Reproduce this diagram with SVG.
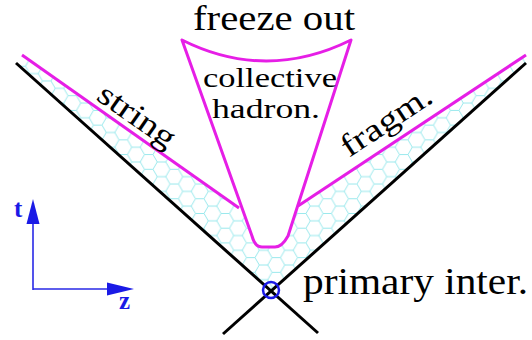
<svg xmlns="http://www.w3.org/2000/svg" width="532" height="340" viewBox="0 0 532 340">
<style>
.lbl{fill:#000}
.ax{fill:#1a1ae6;font-weight:bold;font-size:25px}
.mag{fill:none;stroke:#e61ee6;stroke-width:3;stroke-linejoin:round}
.blk{stroke:#000;stroke-width:3;fill:none}
.axl{stroke:#2a2ae6;stroke-width:1.6;fill:none}
</style>
<defs>
<pattern id="hex" width="25.5" height="14.722" patternUnits="userSpaceOnUse">
<path d="M0,7.361 L4.25,0 L12.75,0 L17,7.361 L12.75,14.722 L4.25,14.722 Z M17,7.361 L25.5,7.361" fill="none" stroke="#8ee6ea" stroke-width="0.9"/>
</pattern>
</defs>
<rect width="532" height="340" fill="#fff"/>
<g id="fill">
<path d="M16,63 L271,291 L526,63 L526,55 L298,206 L288,236 Q282,247 275,247 L262,247 Q255,247 252,236 L239,208 L22,55 Z" fill="url(#hex)"/>
</g>
<g id="connectors">
<line class="blk" x1="16" y1="63" x2="318" y2="333"/>
<line class="blk" x1="526" y1="63" x2="223" y2="334"/>
<path class="mag" d="M22,55 L239,208"/>
<path class="mag" d="M526,55 L298,206"/>
<path class="mag" d="M182,40 Q266,82 351,40 L288,236 Q282,247 275,247 L262,247 Q255,247 252,236 Z"/>
</g>
<g font-family="Liberation Serif, Times New Roman, serif">
<g id="primary">
<circle cx="271" cy="290" r="8" fill="none" stroke="#1a1ae6" stroke-width="2.5"/>
<text class="lbl" x="303" y="294" font-size="37" textLength="225" lengthAdjust="spacingAndGlyphs">primary inter.</text>
</g>
<g id="freeze">
<text class="lbl" x="193" y="30" font-size="35" textLength="162" lengthAdjust="spacingAndGlyphs">freeze out</text>
</g>
<g id="collective">
<text class="lbl" x="203" y="87" font-size="27" textLength="134" lengthAdjust="spacingAndGlyphs">collective</text>
<text class="lbl" x="212" y="118" font-size="27" textLength="108" lengthAdjust="spacingAndGlyphs">hadron.</text>
</g>
<g id="string">
<text class="lbl" font-size="32" transform="translate(95,99) rotate(35)" textLength="88" lengthAdjust="spacingAndGlyphs">string</text>
</g>
<g id="fragm">
<text class="lbl" font-size="32" transform="translate(349,158) rotate(-33.5)" textLength="103" lengthAdjust="spacingAndGlyphs">fragm.</text>
</g>
<g id="axes">
<path class="axl" d="M33,290 L33,220 M33,289 L110,289"/>
<polygon points="33,199 26.5,224 39.5,224" fill="#1a1ae6"/>
<polygon points="134,289 107,282.5 107,295.5" fill="#1a1ae6"/>
<text class="ax" x="14" y="217">t</text>
<text class="ax" x="119" y="309">z</text>
</g>
</g>
</svg>
